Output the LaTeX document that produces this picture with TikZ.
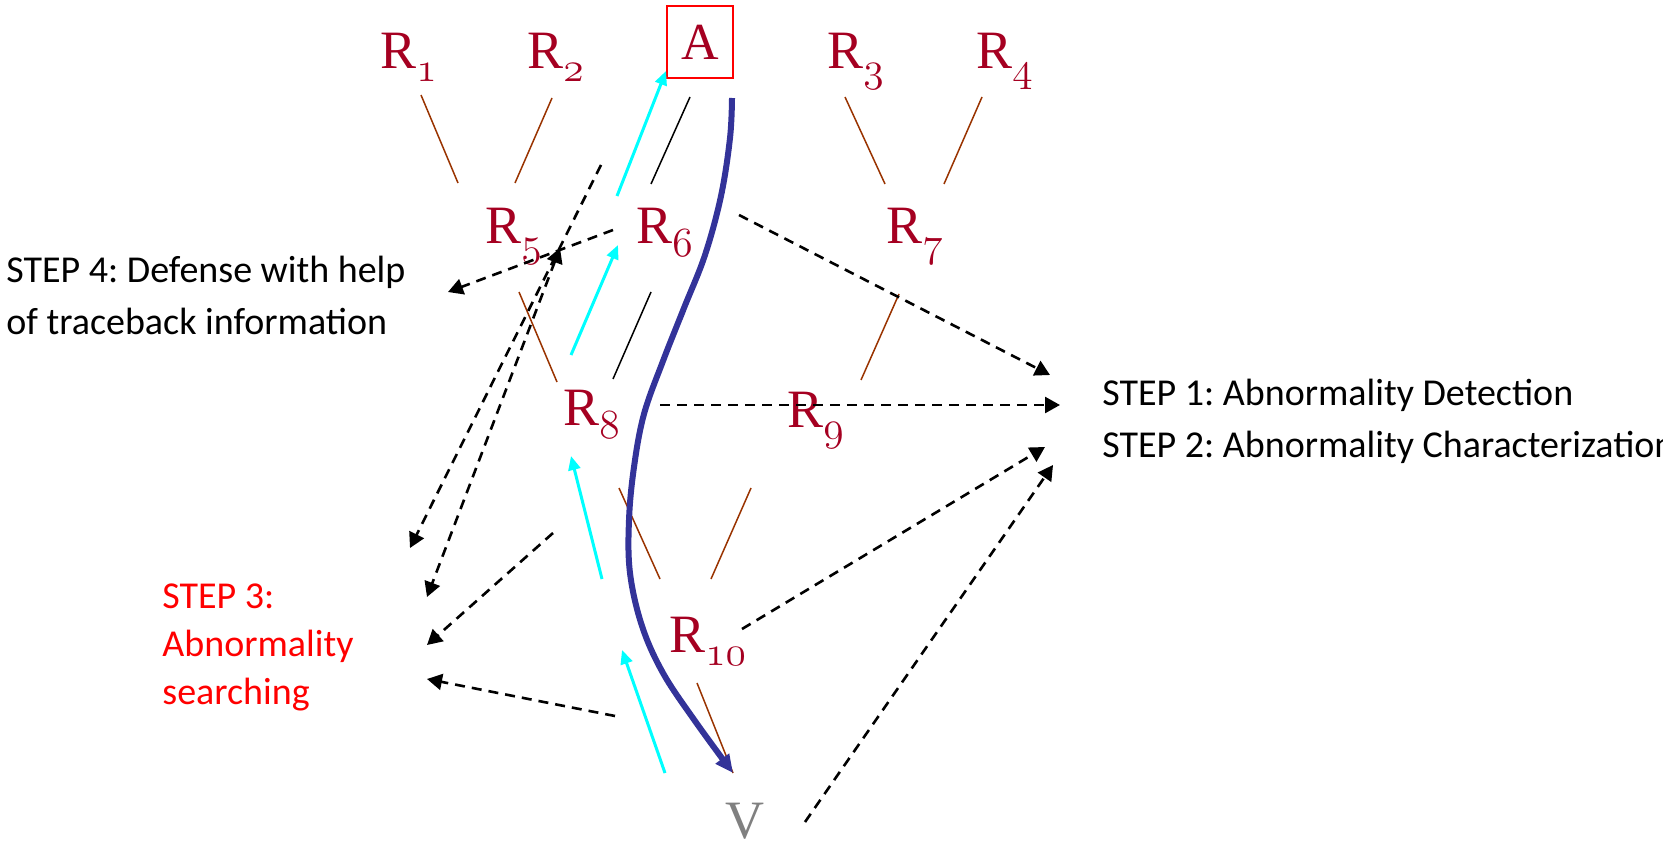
\documentclass[tikz,border=0pt]{standalone}
\usepackage{fontspec}
\usepackage{xcolor}
\usetikzlibrary{arrows.meta,positioning}
\newfontfamily\notefont{Carlito}
\newfontfamily\routerfont{Liberation Serif}
\definecolor{RouterRed}{RGB}{165,0,33}
\definecolor{LinkBrown}{RGB}{153,51,0}
\definecolor{PathBlue}{RGB}{51,51,153}
\definecolor{TraceCyan}{RGB}{0,255,255}
\definecolor{VictimGray}{RGB}{128,128,128}
\newcommand{\oldsub}[1]{\raisebox{-6.5pt}{\fontsize{20}{20}\usefont{OML}{cmm}{m}{it}#1}}
\newcommand{\rname}[1]{R\oldsub{#1}}
\frenchspacing

\begin{document}
\begin{tikzpicture}[x=0.5pt,y=-0.5pt,
    router/.style={RouterRed, font=\routerfont\fontsize{27}{27}\selectfont, inner sep=0pt, anchor=base west},
    stepnote/.style={font=\notefont\fontsize{19}{26}\selectfont, align=left, inner sep=0pt, anchor=base west},
    link/.style={LinkBrown, line width=0.75pt},
    wire/.style={black, line width=0.75pt},
    trace/.style={TraceCyan, line width=1.5pt, -{Triangle[length=7pt,width=6pt]}},
    attackpath/.style={PathBlue, line width=3pt, -{Triangle[length=9pt,width=8pt]}},
    report/.style={black, line width=1.3pt, dash pattern=on 5pt off 3.5pt, -{Triangle[length=7.5pt,width=8pt]}}]
  \useasboundingbox (0,0) rectangle (1663,850);

  % routers, attacker and victim
  \node[router] (r1) at (380,69) {\rname{1}};
  \node[router] (r2) at (527,69) {\rname{2}};
  \node[router] (r3) at (827,69) {\rname{3}};
  \node[router] (r4) at (976,69) {\rname{4}};
  \node[router] (r5) at (485,243) {\rname{5}};
  \node[router] (r6) at (636,243) {\rname{6}};
  \node[router] (r7) at (886,243) {\rname{7}};
  \node[router] (r8) at (563,425) {\rname{8}};
  \node[router] (r9) at (787,427) {\rname{9}};
  \node[router] (r10) at (669,652) {\rname{10}};
  \node[draw=red, line width=0.9pt, minimum width=33pt, minimum height=36pt, text=RouterRed,
        font=\routerfont\fontsize{26}{26}\selectfont] (att) at (700,42) {A};
  \node[router, VictimGray] (vic) at (725,838) {V};

  % step notes (anchor is the last line)
  \node[stepnote] (s4) at (6,334) {STEP 4: Defense with help\\of traceback information};
  \node[stepnote] (s12) at (1102,457) {STEP 1: Abnormality Detection\\STEP 2: Abnormality Characterization};
  \node[stepnote, red, font=\notefont\fontsize{19}{24}\selectfont] (s3) at (162,704) {STEP 3:\\Abnormality\\searching};

  % link ends
  \coordinate (k1a) at (421,95);  \coordinate (k1b) at (458,183);
  \coordinate (k2a) at (552,98);  \coordinate (k2b) at (515,183);
  \coordinate (k3a) at (845,97);  \coordinate (k3b) at (885,184);
  \coordinate (k4a) at (982,97);  \coordinate (k4b) at (944,184);
  \coordinate (k5a) at (519,292); \coordinate (k5b) at (557,382);
  \coordinate (k7a) at (899,294); \coordinate (k7b) at (861,380);
  \coordinate (k8a) at (619,488); \coordinate (k8b) at (660,579);
  \coordinate (k9a) at (751,488); \coordinate (k9b) at (711,579);
  \coordinate (k0a) at (697,683); \coordinate (k0b) at (733,773);
  \coordinate (w1a) at (690,97);  \coordinate (w1b) at (651,184);
  \coordinate (w2a) at (651,292); \coordinate (w2b) at (613,379);
  \foreach \a/\b in {k1a/k1b,k2a/k2b,k3a/k3b,k4a/k4b,k5a/k5b,k7a/k7b,k8a/k8b,k9a/k9b,k0a/k0b}
    \draw[link] (\a) -- (\b);
  \draw[wire] (w1a) -- (w1b);
  \draw[wire] (w2a) -- (w2b);

  % traceback (cyan)
  \coordinate (t1a) at (617,196); \coordinate (t1b) at (666,71);
  \coordinate (t2a) at (571,355); \coordinate (t2b) at (618,245);
  \coordinate (t3a) at (602,579); \coordinate (t3b) at (571,456);
  \coordinate (t4a) at (665,773); \coordinate (t4b) at (622,650);
  \foreach \a/\b in {t1a/t1b,t2a/t2b,t3a/t3b,t4a/t4b}
    \draw[trace] (\a) -- (\b);

  % attack path
  \draw[attackpath] plot[smooth, tension=0.6] coordinates {(732,98) (730,138) (721,196) (705,255)
    (684,308) (663,361) (644,414) (634,467) (629,520) (630,573) (642,626) (663,673) (695,721) (733,773)};

  % dashed reports
  \coordinate (d1a) at (739,215); \coordinate (d1b) at (1050,375);
  \coordinate (d2a) at (660,405); \coordinate (d2b) at (1060,405);
  \coordinate (d3a) at (742,629); \coordinate (d3b) at (1045,447);
  \coordinate (d4a) at (805,822); \coordinate (d4b) at (1053,465);
  \coordinate (d5a) at (613,230); \coordinate (d5b) at (448,292);
  \coordinate (d6a) at (601,165); \coordinate (d6b) at (410,548);
  \coordinate (d7a) at (560,248); \coordinate (d7b) at (427,597);
  \coordinate (d8a) at (553,533); \coordinate (d8b) at (427,645);
  \coordinate (d9a) at (615,716); \coordinate (d9b) at (427,679);
  \foreach \a/\b in {d1a/d1b,d2a/d2b,d3a/d3b,d4a/d4b,d5a/d5b,d6a/d6b,d8a/d8b,d9a/d9b}
    \draw[report] (\a) -- (\b);
  \draw[report, {Triangle[length=7.5pt,width=8pt]}-{Triangle[length=7.5pt,width=8pt]}] (d7a) -- (d7b);
\end{tikzpicture}
\end{document}
